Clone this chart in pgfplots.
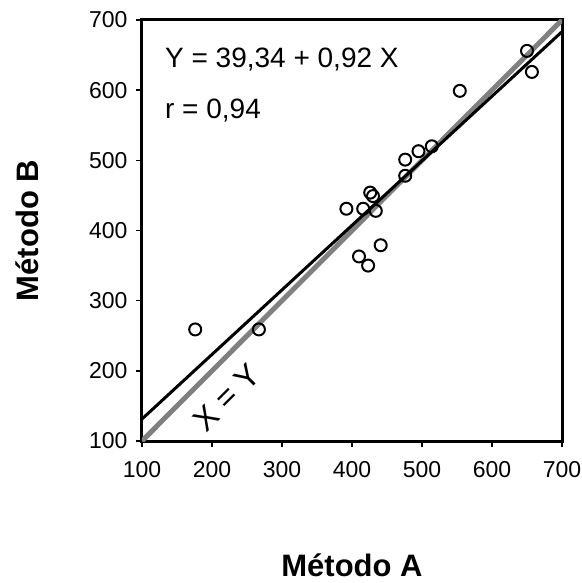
\documentclass[border=0pt]{standalone}
\usepackage{pgfplots}
\pgfplotsset{compat=1.18}
\usepackage{fontspec}
\setmainfont{Liberation Sans}

\definecolor{idgray}{RGB}{128,128,128}

% Paired measurements: method A (x) against method B (y)
\pgfplotstableread{
a   b
176 259
267 259
392 431
416 431
426 454
430 449
434 428
441 379
410 363
423 350
476 478
476 501
495 513
514 520
554 599
650 656
657 626
}\pairs

\begin{document}
\begin{tikzpicture}
\begin{axis}[
  scale only axis,
  width=420pt, height=421pt,
  xmin=100, xmax=700, ymin=100, ymax=700,
  xtick={100,200,...,700}, ytick={100,200,...,700},
  tick align=outside,
  tick pos=left,
  major tick length=6pt,
  every tick/.style={black, line width=1.5pt},
  axis line style={line width=3pt},
  /pgf/number format/assume math mode=true,
  tick label style={font=\fontsize{23}{26}\selectfont},
  xticklabel style={yshift=-11pt},
  yticklabel style={xshift=-5pt},
  xlabel={Método A},
  ylabel={Método B},
  label style={font=\fontsize{31}{36}\selectfont\bfseries},
  xlabel style={at={(axis description cs:0.5,-0.295)}, anchor=center},
  ylabel style={at={(axis description cs:-0.274,0.5)}, anchor=center, rotate=0},
]
  % observations
  \addplot[only marks, mark=o, mark size=6pt,
    mark options={line width=2pt, fill=white, draw=black}]
    table[x=a, y=b] {\pairs};
  % identity line
  \addplot[idgray, line width=5pt] coordinates {(100,100) (700,700)};
  % least-squares fit: Y = 39.34 + 0.92 X
  \addplot[black, line width=3pt] coordinates {(100,131.34) (700,683.34)};

  \node[anchor=base west, font=\fontsize{28}{32}\selectfont]
    at (axis cs:128,633) {Y = 39,34 + 0,92 X};
  \node[anchor=base west, font=\fontsize{28}{32}\selectfont]
    at (axis cs:128,559) {r = 0,94};
  \node[rotate=45, font=\fontsize{32}{36}\selectfont]
    at (axis cs:221,162) {X = Y};
\end{axis}
\pgfresetboundingbox
\path (current axis.south west) ++(-142pt,-142pt) rectangle ++(581pt,583pt);
\end{tikzpicture}
\end{document}
